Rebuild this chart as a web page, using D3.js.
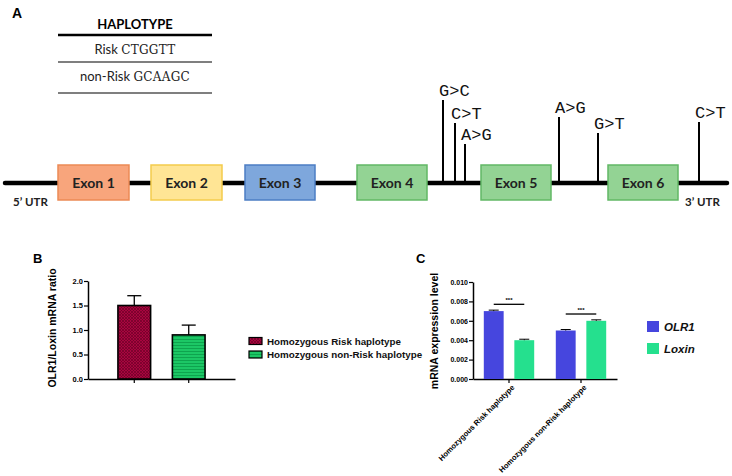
<!DOCTYPE html>
<html><head><meta charset="utf-8">
<script src="https://cdn.jsdelivr.net/npm/d3@7"></script>
<style>
body{margin:0;background:#fff;}
svg{display:block;}
</style></head>
<body>
<script>
// ---------- DATA ----------
// Panel A: haplotype table
const haplotypeHeader = "HAPLOTYPE";
const haplotypeNames = ["Risk", "non-Risk"];
const haplotypeSeqs = ["CTGGTT", "GCAAGC"];
// Panel A: gene model (schematic coordinates)
const exonNames = ["Exon 1", "Exon 2", "Exon 3", "Exon 4", "Exon 5", "Exon 6"];
const exonStart = [53, 146, 240, 352, 476, 603];
const exonEnd   = [124, 217, 310, 422, 546, 673];
const exonFill   = ["#F8A57C", "#FFE595", "#7EA7DC", "#93D394", "#93D394", "#93D394"];
const exonStroke = ["#EC8A55", "#F4CB4C", "#4C7EC4", "#62B865", "#62B865", "#62B865"];
const snpLabels = ["G>C", "C>T", "A>G", "A>G", "G>T", "C>T"];
const snpPos    = [438, 450, 460, 554, 593, 694];
const snpLevel  = [83, 60, 39, 66, 50, 61];
const utrLabels = ["5\u2019 UTR", "3\u2019 UTR"];
// Panel B
const bCategories = ["Homozygous Risk haplotype", "Homozygous non-Risk haplotype"];
const bValues = [1.5, 0.9];
const bErrors = [0.2, 0.2];
const bTicks = [0, 0.5, 1.0, 1.5, 2.0];
// Panel C
const cGroups = ["Homozygous Risk haplotype", "Homozygous non-Risk haplotype"];
const cSeries = ["OLR1", "Loxin"];
const cOLR1 = [0.007, 0.005];
const cLoxin = [0.004, 0.006];
const cErrOLR1 = [0.0001, 0.0001];
const cErrLoxin = [0.0001, 0.0001];
const cTicks = [0, 0.002, 0.004, 0.006, 0.008, 0.010];
const cSig = ["***", "***"];

// ---------- SVG ----------
const W = 732, H = 476;
const svg = d3.select("body").append("svg").attr("width", W).attr("height", H);
const defs = svg.append("defs");

// patterns
const p1 = defs.append("pattern").attr("id", "hatchRed").attr("patternUnits", "userSpaceOnUse")
  .attr("width", 3).attr("height", 3);
p1.append("rect").attr("width", 3).attr("height", 3).attr("fill", "#A8063F");
p1.append("path").attr("d", "M0,0L3,3M3,0L0,3").attr("stroke", "#6E0026").attr("stroke-width", 0.7);
const p2 = defs.append("pattern").attr("id", "hatchGreen").attr("patternUnits", "userSpaceOnUse")
  .attr("width", 4).attr("height", 3);
p2.append("rect").attr("width", 4).attr("height", 3).attr("fill", "#1CC765");
p2.append("line").attr("x1", 0).attr("x2", 4).attr("y1", 0.5).attr("y2", 0.5).attr("stroke", "#0A9A48").attr("stroke-width", 0.8);

const arialB = "Liberation Sans, Arial, sans-serif";
const lato = "Lato, 'Open Sans', sans-serif";

// ---------- PANEL A ----------
svg.append("text").attr("x", 12).attr("y", 18).attr("font-family", arialB).attr("font-weight", "bold")
  .attr("font-size", 14).text("A");

const tbl = svg.append("g");
tbl.append("text").attr("x", 135).attr("y", 29).attr("text-anchor", "middle").attr("font-family", lato)
  .attr("font-weight", "bold").attr("font-size", 13).text(haplotypeHeader);
const tblLinesY = [35, 62, 93];
tbl.selectAll("line.t").data(tblLinesY).join("line")
  .attr("x1", 58).attr("x2", 212).attr("y1", d => d).attr("y2", d => d)
  .attr("stroke", "#000").attr("stroke-width", (d, i) => i === 0 ? 2.5 : 1.2);
const rowY = [54, 81];
haplotypeNames.forEach((n, i) => {
  const t = tbl.append("text").attr("x", 135).attr("y", rowY[i]).attr("text-anchor", "middle")
    .attr("font-size", 13).attr("fill", "#222");
  t.append("tspan").attr("font-family", lato).text(n + " ");
  t.append("tspan").attr("font-family", "'DejaVu Serif', serif").attr("font-size", 12).attr("letter-spacing", 0.3).text(haplotypeSeqs[i]);
});

const geneY = 183;
const gx = d3.scaleLinear().domain([0, 722]).range([5, 727]);
const gy = d3.scaleLinear().domain([0, 100]).range([geneY, geneY - 100]);

svg.append("line").attr("x1", gx(0)).attr("x2", gx(722)).attr("y1", geneY).attr("y2", geneY)
  .attr("stroke", "#000").attr("stroke-width", 4.5).attr("stroke-linecap", "round");

// SNP stems
const snps = svg.append("g");
snpPos.forEach((p, i) => {
  snps.append("line").attr("x1", gx(p)).attr("x2", gx(p)).attr("y1", geneY).attr("y2", gy(snpLevel[i]))
    .attr("stroke", "#000").attr("stroke-width", 2);
  snps.append("text").attr("x", gx(p) - 4).attr("y", gy(snpLevel[i]) - 4)
    .attr("font-family", "'Liberation Mono', 'Courier New', monospace").attr("font-size", 17)
    .attr("fill", "#111").text(snpLabels[i]);
});

// exons
const ex = svg.append("g");
exonNames.forEach((n, i) => {
  ex.append("rect").attr("x", gx(exonStart[i])).attr("y", 165).attr("width", gx(exonEnd[i]) - gx(exonStart[i]))
    .attr("height", 35).attr("fill", exonFill[i]).attr("stroke", exonStroke[i]).attr("stroke-width", 1.5);
  ex.append("text").attr("x", (gx(exonStart[i]) + gx(exonEnd[i])) / 2).attr("y", 187.5)
    .attr("text-anchor", "middle").attr("font-family", lato).attr("font-weight", "bold").attr("font-size", 14)
    .attr("fill", "#222").text(n);
});
svg.append("text").attr("x", 13).attr("y", 206).attr("font-family", lato).attr("font-weight", "bold")
  .attr("font-size", 11.5).attr("fill", "#222").text(utrLabels[0]);
svg.append("text").attr("x", 685).attr("y", 206).attr("font-family", lato).attr("font-weight", "bold")
  .attr("font-size", 11.5).attr("fill", "#222").text(utrLabels[1]);

// ---------- PANEL B ----------
svg.append("text").attr("x", 33).attr("y", 263).attr("font-family", arialB).attr("font-weight", "bold")
  .attr("font-size", 13).text("B");
const bY = d3.scaleLinear().domain([0, 2]).range([379, 281]);
const bX = d3.scaleBand().domain(bCategories).range([88, 235]).paddingInner(0.4).paddingOuter(0.55);
const gB = svg.append("g");
const bAxis = gB.append("g").attr("transform", "translate(88,0)")
  .call(d3.axisLeft(bY).tickValues(bTicks).tickFormat(d3.format(".1f")).tickSize(4).tickSizeOuter(0));
bAxis.select(".domain").attr("stroke-width", 1.5);
bAxis.selectAll(".tick line").attr("stroke-width", 1.2);
bAxis.selectAll("text").attr("font-family", arialB).attr("font-weight", "bold").attr("font-size", 7.5).attr("dx", 2);
const bAxX = gB.append("g").attr("transform", "translate(0,379)")
  .call(d3.axisBottom(bX).tickSize(4).tickSizeOuter(0).tickFormat(""));
bAxX.select(".domain").attr("stroke-width", 1.5);
bAxX.selectAll(".tick line").attr("stroke-width", 1.2);

const bPat = ["url(#hatchRed)", "url(#hatchGreen)"];
bCategories.forEach((c, i) => {
  const cx = bX(c) + bX.bandwidth() / 2;
  gB.append("line").attr("x1", cx).attr("x2", cx).attr("y1", bY(bValues[i])).attr("y2", bY(bValues[i] + bErrors[i]))
    .attr("stroke", "#000").attr("stroke-width", 1.3);
  gB.append("line").attr("x1", cx - 7).attr("x2", cx + 7).attr("y1", bY(bValues[i] + bErrors[i])).attr("y2", bY(bValues[i] + bErrors[i]))
    .attr("stroke", "#000").attr("stroke-width", 1.3);
  gB.append("rect").attr("x", bX(c)).attr("y", bY(bValues[i])).attr("width", bX.bandwidth())
    .attr("height", bY(0) - bY(bValues[i])).attr("fill", bPat[i]).attr("stroke", "#000").attr("stroke-width", 1.6);
});
svg.append("text").attr("transform", "translate(56,328) rotate(-90)").attr("text-anchor", "middle")
  .attr("font-family", arialB).attr("font-weight", "bold").attr("font-size", 10.5).text("OLR1/Loxin mRNA ratio");
bCategories.forEach((c, i) => {
  const ly = 341 + i * 13.5;
  svg.append("rect").attr("x", 249).attr("y", ly - 3.5).attr("width", 13).attr("height", 7)
    .attr("fill", bPat[i]).attr("stroke", "#000").attr("stroke-width", 1.2);
  svg.append("text").attr("x", 267).attr("y", ly + 3.5).attr("font-family", arialB).attr("font-weight", "bold")
    .attr("font-size", 9.8).attr("fill", "#111").text(c);
});

// ---------- PANEL C ----------
svg.append("text").attr("x", 416).attr("y", 263).attr("font-family", arialB).attr("font-weight", "bold")
  .attr("font-size", 13).text("C");
const cY = d3.scaleLinear().domain([0, 0.01]).range([379, 282]);
const cX = d3.scaleBand().domain(cGroups).range([473, 617]).paddingInner(0.3).paddingOuter(0.15);
const cX1 = d3.scaleBand().domain(cSeries).range([0, cX.bandwidth()]).paddingInner(0.35);
const cColors = ["#4646DE", "#25E08E"];
const gC = svg.append("g");
const cAx = gC.append("g").attr("transform", "translate(473,0)")
  .call(d3.axisLeft(cY).tickValues(cTicks).tickFormat(d3.format(".3f")).tickSize(4).tickSizeOuter(0));
cAx.select(".domain").attr("stroke-width", 1.5);
cAx.selectAll(".tick line").attr("stroke-width", 1.2);
cAx.selectAll("text").attr("font-family", arialB).attr("font-weight", "bold").attr("font-size", 7).attr("dx", 2);
const cAxX = gC.append("g").attr("transform", "translate(0,379)")
  .call(d3.axisBottom(cX).tickSize(4).tickSizeOuter(0));
cAxX.select(".domain").attr("stroke-width", 1.5);
cAxX.selectAll(".tick line").attr("stroke-width", 1.2);
cAxX.selectAll("text").attr("font-family", arialB).attr("font-weight", "bold").attr("font-size", 7.6)
  .attr("text-anchor", "end").attr("transform", "translate(3,6) rotate(-45)").attr("dy", "0.3em").attr("y", 2);

const cVals = [cOLR1, cLoxin], cErrs = [cErrOLR1, cErrLoxin];
cGroups.forEach((g, gi) => {
  cSeries.forEach((s, si) => {
    const x0 = cX(g) + cX1(s), v = cVals[si][gi], e = cErrs[si][gi];
    const cx = x0 + cX1.bandwidth() / 2;
    gC.append("rect").attr("x", x0).attr("y", cY(v)).attr("width", cX1.bandwidth()).attr("height", cY(0) - cY(v))
      .attr("fill", cColors[si]);
    gC.append("line").attr("x1", cx - 5).attr("x2", cx + 5).attr("y1", cY(v + e)).attr("y2", cY(v + e))
      .attr("stroke", "#000").attr("stroke-width", 1);
    gC.append("line").attr("x1", cx).attr("x2", cx).attr("y1", cY(v)).attr("y2", cY(v + e))
      .attr("stroke", "#000").attr("stroke-width", 1);
  });
  const maxV = Math.max(cOLR1[gi], cLoxin[gi]);
  const sy = cY(maxV + 0.0007);
  const x1 = cX(g) + cX1("OLR1") + cX1.bandwidth() / 2, x2 = cX(g) + cX1("Loxin") + cX1.bandwidth() / 2;
  gC.append("line").attr("x1", x1).attr("x2", x2).attr("y1", sy).attr("y2", sy).attr("stroke", "#000").attr("stroke-width", 1.3);
  gC.append("text").attr("x", (x1 + x2) / 2).attr("y", sy - 2).attr("text-anchor", "middle")
    .attr("font-family", arialB).attr("font-weight", "bold").attr("font-size", 6).text(cSig[gi]);
});
svg.append("text").attr("transform", "translate(438,331) rotate(-90)").attr("text-anchor", "middle")
  .attr("font-family", arialB).attr("font-weight", "bold").attr("font-size", 10.5).text("mRNA expression level");
cSeries.forEach((s, i) => {
  const ly = 327 + i * 22;
  svg.append("rect").attr("x", 647).attr("y", ly - 6).attr("width", 12).attr("height", 11).attr("fill", cColors[i]);
  svg.append("text").attr("x", 664).attr("y", ly + 4).attr("font-family", arialB).attr("font-weight", "bold")
    .attr("font-style", "italic").attr("font-size", 11.5).attr("fill", "#111").text(s);
});
</script>
</body></html>
